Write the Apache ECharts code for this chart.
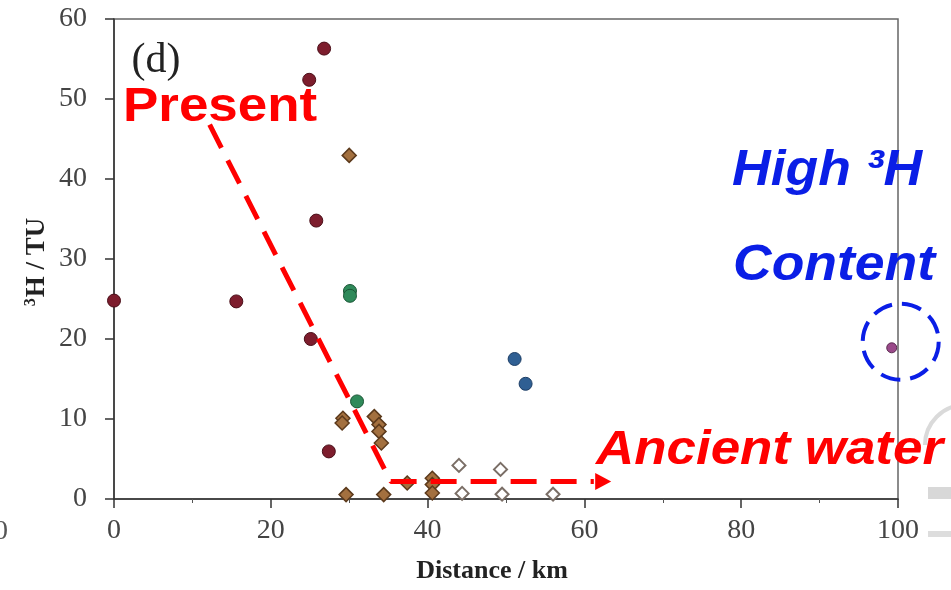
<!DOCTYPE html>
<html>
<head>
<meta charset="utf-8">
<script src="https://cdn.jsdelivr.net/npm/echarts@6/dist/echarts.min.js"></script>
<style>html,body{margin:0;padding:0;background:#fff;}#c{width:951px;height:590px;}</style>
</head>
<body>
<div id="c"></div>
<script>
// ---- data ----
var xTicks = [0, 20, 40, 60, 80, 100];
var yTicks = [0, 10, 20, 30, 40, 50, 60];
var redX = [0, 15.6, 25.1, 27.4, 25.8, 24.9, 26.8];
var redY = [24.8, 24.7, 20.0, 5.95, 34.8, 52.4, 56.3];
var greenX = [30.1, 30.1, 31.0];
var greenY = [26.0, 25.4, 12.2];
var blueX = [51.1, 52.5];
var blueY = [17.5, 14.4];
var purpleX = [99.2];
var purpleY = [18.9];
var brownX = [30.0, 29.2, 29.1, 33.2, 33.8, 33.8, 34.1, 29.6, 34.4, 37.4, 40.6, 40.6, 40.6];
var brownY = [42.95, 10.1, 9.5, 10.3, 9.3, 8.45, 7.0, 0.55, 0.55, 2.0, 2.6, 1.8, 0.75];
var openX = [44.0, 49.3, 44.4, 49.5, 56.0];
var openY = [4.2, 3.7, 0.7, 0.6, 0.6];
var arrowX = [12.2, 35.3, 61.2];
var arrowY = [46.8, 2.2, 2.2];
var arrowHead = [62.4, 2.2];

function pairs(xs, ys) { return xs.map(function (x, i) { return [x, ys[i]]; }); }

var chart = echarts.init(document.getElementById('c'), null, {renderer: 'canvas'});
var serif = '"Liberation Serif", "Times New Roman", serif';
var sans = '"Liberation Sans", Arial, sans-serif';

chart.setOption({
  backgroundColor: '#ffffff',
  animation: false,
  grid: {left: 114, right: 53, top: 19, bottom: 91, show: true, borderColor: '#666', borderWidth: 1.5},
  xAxis: {
    type: 'value', min: xTicks[0], max: xTicks[xTicks.length - 1], interval: 20,
    axisLine: {show: true, onZero: false, lineStyle: {color: '#333', width: 1.5}},
    axisTick: {show: true, inside: false, length: 9, lineStyle: {color: '#333', width: 1.5}},
    minorTick: {show: true, splitNumber: 2, length: 4, lineStyle: {color: '#555', width: 1}},
    splitLine: {show: false},
    axisLabel: {color: '#444', fontFamily: serif, fontSize: 28, margin: 18}
  },
  yAxis: {
    type: 'value', min: yTicks[0], max: yTicks[yTicks.length - 1], interval: 10,
    axisLine: {show: true, onZero: false, lineStyle: {color: '#333', width: 1.5}},
    axisTick: {show: true, inside: false, length: 9, lineStyle: {color: '#333', width: 1.5}},
    splitLine: {show: false},
    axisLabel: {color: '#444', fontFamily: serif, fontSize: 28, margin: 27}
  },
  series: [
    {type: 'line', data: pairs(arrowX, arrowY), symbol: 'none', z: 5,
     lineStyle: {color: '#ff0000', width: 5, type: [26, 14], opacity: 1}},
    {type: 'scatter', data: [arrowHead], symbol: 'triangle', symbolSize: [17, 16], symbolRotate: -90, z: 5,
     itemStyle: {color: '#ff0000', opacity: 1}},
    {type: 'scatter', data: pairs(redX, redY), symbol: 'circle', symbolSize: 13, z: 3,
     itemStyle: {color: '#7d1d2d', borderColor: '#4a0e18', borderWidth: 1, opacity: 1}},
    {type: 'scatter', data: pairs(greenX, greenY), symbol: 'circle', symbolSize: 13, z: 3,
     itemStyle: {color: '#2f8a5a', borderColor: '#1b5636', borderWidth: 1, opacity: 1}},
    {type: 'scatter', data: pairs(blueX, blueY), symbol: 'circle', symbolSize: 13, z: 3,
     itemStyle: {color: '#2f5f93', borderColor: '#1d3e66', borderWidth: 1, opacity: 1}},
    {type: 'scatter', data: pairs(purpleX, purpleY), symbol: 'circle', symbolSize: 10, z: 3,
     itemStyle: {color: '#9a4a8a', borderColor: '#5a2a50', borderWidth: 1, opacity: 1}},
    {type: 'scatter', data: pairs(brownX, brownY), symbol: 'diamond', symbolSize: 14, z: 3,
     itemStyle: {color: '#a3703f', borderColor: '#5c3a1c', borderWidth: 1.5, opacity: 1}},
    {type: 'scatter', data: pairs(openX, openY), symbol: 'diamond', symbolSize: 13, z: 3,
     itemStyle: {color: '#ffffff', borderColor: '#7a6e66', borderWidth: 2, opacity: 1}}
  ],
  graphic: [
    {type: 'text', x: 156, y: 61, z: 10, style: {text: '(d)', font: '42px ' + serif, fill: '#222', align: 'center', verticalAlign: 'middle'}},
    {type: 'text', x: 37, y: 262, rotation: Math.PI / 2, z: 10,
     style: {text: '{s|3}{b|H / TU}', align: 'center', verticalAlign: 'middle',
       rich: {s: {font: 'bold 16px ' + serif, fill: '#222', verticalAlign: 'top', padding: [0, 1, 12, 0]},
              b: {font: 'bold 27px ' + serif, fill: '#222'}}}},
    {type: 'text', x: 492, y: 571, z: 10, style: {text: 'Distance / km', font: 'bold 26px ' + serif, fill: '#222', align: 'center', verticalAlign: 'middle'}},
    {type: 'text', x: 123, y: 107.5, scaleX: 1.08, z: 10, style: {text: 'Present', font: 'bold 49px ' + sans, fill: '#ff0000', align: 'left', verticalAlign: 'middle'}},
    {type: 'text', x: 596, y: 450.5, scaleX: 1.08, z: 10, style: {text: 'Ancient water', font: 'italic bold 49px ' + sans, fill: '#ff0000', align: 'left', verticalAlign: 'middle'}},
    {type: 'text', x: 732, y: 171, scaleX: 1.07, z: 10, style: {text: 'High \u00B3H', font: 'italic bold 50px ' + sans, fill: '#0a1ee6', align: 'left', verticalAlign: 'middle'}},
    {type: 'text', x: 733, y: 266.5, scaleX: 1.07, z: 10, style: {text: 'Content', font: 'italic bold 50px ' + sans, fill: '#0a1ee6', align: 'left', verticalAlign: 'middle'}},
    {type: 'circle', shape: {cx: 900.7, cy: 341.7, r: 38}, z: 10, style: {fill: 'none', stroke: '#0a1ee6', lineWidth: 4, lineDash: [20, 10]}},
    {type: 'text', x: 8, y: 532, z: 10, style: {text: '0', font: '28px ' + serif, fill: '#555', align: 'right', verticalAlign: 'middle'}},
    {type: 'rect', shape: {x: 928, y: 487, width: 23, height: 12}, z: 1, style: {fill: '#d8d8d8'}},
    {type: 'rect', shape: {x: 928, y: 531, width: 23, height: 6}, z: 1, style: {fill: '#dddddd'}},
    {type: 'arc', shape: {cx: 965, cy: 445, r: 40, startAngle: Math.PI, endAngle: Math.PI * 1.5}, z: 1, style: {stroke: '#dadada', lineWidth: 4, fill: 'none'}}
  ]
});
</script>
</body>
</html>
